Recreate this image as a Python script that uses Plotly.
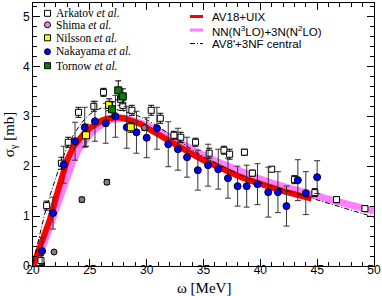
import plotly.graph_objects as go

# ---------------- data ----------------
# Arkatov et al. (open squares)
ark_x = [20.7, 21.2, 22.5, 23.1, 24.0, 25.35, 26.2, 27.7, 27.9, 28.7, 30.4, 31.2, 32.4, 33.0,
         34.3, 35.5, 36.8, 37.3, 38.6, 39.3, 41.0, 43.0, 44.8, 46.7, 49.2]
ark_y = [0.11, 1.21, 2.06, 2.48, 3.08, 3.20, 3.48, 3.34, 3.22, 3.12, 3.12, 2.96, 2.62, 2.58,
         2.48, 2.26, 2.32, 2.24, 2.28, 1.86, 1.94, 1.73, 1.47, 1.33, 1.15]
ark_e = [0.10, 0.09, 0.12, 0.10, 0.10, 0.10, 0.08, 0.12, 0.10, 0.10, 0.10, 0.10, 0.08, 0.10,
         0.08, 0.10, 0.08, 0.10, 0.06, 0.06, 0.05, 0.08, 0.08, 0.06, 0.06]

# Shima et al.
shi_x = [21.85, 24.3, 26.5, 29.8]
shi_y = [0.28, 1.33, 1.68, 2.77]
shi_e = [0.03, 0.05, 0.05, 0.05]

# Nilsson et al.
nil_x = [24.66, 26.7, 28.6]
nil_y = [2.62, 3.23, 2.78]
nil_e = [0.22, 0.12, 0.10]

# Nakayama et al.
nak_x = [20.8, 21.76, 22.7, 23.7, 24.55, 25.45, 26.4, 27.25, 28.25, 29.1, 30.0, 30.9, 31.9,
         32.75, 33.55, 34.5, 35.4, 36.3, 37.15, 38.0, 38.8, 39.75, 40.7, 41.55, 42.3, 43.3,
         44.0, 45.0]
nak_y = [0.30, 1.06, 2.03, 2.50, 2.78, 2.90, 2.86, 3.00, 2.78, 2.68, 2.57, 2.76, 2.44,
         2.34, 2.18, 1.92, 2.02, 1.94, 1.76, 1.60, 1.60, 1.64, 1.48, 1.48, 1.20, 1.72,
         1.46, 1.78]
nak_e = [0.27, 0.32, 0.37, 0.38, 0.40, 0.40, 0.40, 0.42, 0.42, 0.42, 0.40, 0.42, 0.45,
         0.42, 0.40, 0.40, 0.42, 0.40, 0.40, 0.40, 0.42, 0.41, 0.50, 0.41, 0.40, 0.41,
         0.43, 0.33]

# Tornow et al.
tor_x = [26.95, 27.5, 27.9]
tor_y = [3.14, 3.52, 3.40]
tor_e = [0.15, 0.19, 0.15]

# AV18+UIX
av18_x = [20.0, 20.5, 21.0, 21.5, 22.0, 22.5, 23.0, 23.5, 24.0, 24.5, 25.0, 25.5, 26.0, 26.5,
          27.0, 27.5, 28.0, 28.5, 29.0, 29.5, 30.0, 31.0, 32.0, 33.0, 34.0, 35.0, 36.0, 37.0,
          38.0, 39.0, 40.0, 41.0, 42.0, 43.0, 44.0, 44.5]
av18_y = [0.0, 0.30, 0.62, 0.94, 1.36, 1.78, 2.12, 2.37, 2.54, 2.66, 2.76, 2.85, 2.91, 2.95,
          2.97, 2.98, 2.96, 2.93, 2.89, 2.84, 2.77, 2.63, 2.49, 2.36, 2.24, 2.12, 2.01, 1.91,
          1.81, 1.72, 1.64, 1.57, 1.50, 1.44, 1.38, 1.35]

# NN(N3LO)+3N(N2LO)
chi_x = [20.0, 20.5, 21.0, 21.5, 22.0, 22.5, 23.0, 23.5, 24.0, 24.5, 25.0, 25.5, 26.0, 26.5,
         27.0, 27.5, 28.0, 28.5, 29.0, 29.5, 30.0, 31.0, 32.0, 33.0, 34.0, 35.0, 36.0, 37.0,
         38.0, 39.0, 40.0, 41.0, 42.0, 43.0, 44.0, 45.0, 46.0, 47.0, 48.0, 49.0, 50.0]
chi_y = [0.0, 0.20, 0.48, 0.80, 1.12, 1.48, 1.82, 2.10, 2.33, 2.50, 2.64, 2.75, 2.84, 2.90,
         2.94, 2.96, 2.96, 2.94, 2.91, 2.87, 2.82, 2.71, 2.58, 2.46, 2.34, 2.22, 2.11, 2.01,
         1.91, 1.82, 1.74, 1.66, 1.59, 1.52, 1.46, 1.40, 1.34, 1.28, 1.22, 1.16, 1.10]

# AV8'+3NF central
av8_x = [20.0, 20.5, 21.0, 21.5, 22.0, 22.5, 23.0, 23.5, 24.0, 24.5, 25.0, 25.5, 26.0, 27.0,
         28.0, 29.0, 30.0, 31.0, 32.0, 33.0, 34.0, 35.0, 36.0, 37.0, 38.0, 39.0, 40.0, 41.0,
         42.0, 43.0, 44.0, 45.0, 46.0, 47.0, 48.0, 49.0, 50.0]
av8_y = [0.05, 0.55, 1.02, 1.42, 1.78, 2.10, 2.38, 2.60, 2.78, 2.93, 3.04, 3.12, 3.16, 3.15,
         3.10, 3.03, 2.93, 2.80, 2.64, 2.48, 2.33, 2.19, 2.07, 1.96, 1.85, 1.75, 1.67, 1.60,
         1.53, 1.46, 1.40, 1.33, 1.26, 1.19, 1.12, 1.05, 0.98]

x_ticks = [20, 25, 30, 35, 40, 45, 50]
y_ticks = [0, 1, 2, 3, 4, 5]

SERIF = "Liberation Serif, Times New Roman, serif"
SANS = "Liberation Sans, Arial, sans-serif"

fig = go.Figure()

# theory curves
fig.add_trace(go.Scatter(x=chi_x, y=chi_y, mode="lines",
                         line=dict(color="#ff80ff", width=7), showlegend=False,
                         name="NN(N3LO)+3N(N2LO)"))
fig.add_trace(go.Scatter(x=av18_x, y=av18_y, mode="lines",
                         line=dict(color="#ff0000", width=6), showlegend=False,
                         name="AV18+UIX"))
fig.add_trace(go.Scatter(x=av8_x, y=av8_y, mode="lines",
                         line=dict(color="black", width=1, dash="5px,2px,1px,2px"),
                         showlegend=False, name="AV8'+3NF central"))


def data_trace(x, y, e, symbol, fill, ecolor, size, name):
    return go.Scatter(
        x=x, y=y, mode="markers", name=name, showlegend=False,
        marker=dict(symbol=symbol, size=size, color=fill,
                    line=dict(color="black", width=1)),
        error_y=dict(type="data", array=e, visible=True, color=ecolor,
                     thickness=1, width=3))


fig.add_trace(data_trace(ark_x, ark_y, ark_e, "square", "white", "black", 6, "Arkatov et al."))
fig.add_trace(data_trace(shi_x, shi_y, shi_e, "circle", "#808080", "black", 6, "Shima et al."))
fig.add_trace(data_trace(nak_x, nak_y, nak_e, "circle", "#0000ff", "#333333", 7, "Nakayama et al."))
fig.add_trace(data_trace(nil_x, nil_y, nil_e, "square", "#ffff00", "black", 7, "Nilsson et al."))
fig.add_trace(data_trace(tor_x, tor_y, tor_e, "square", "#008000", "black", 7, "Tornow et al."))

# ---------- custom legends (text + glyphs) ----------
def px2x(px):
    return (px - 33) / 341.0


def py2y(py):
    return (266 - py) / 263.0


shapes = []
annotations = []
left_entries = [
    ("Arkatov <i>et al.</i>", "rect", "white", 13.3),
    ("Shima <i>et al.</i>", "circle", "#ee82ee", 24.8),
    ("Nilsson <i>et al.</i>", "rect", "#ffff00", 37.8),
    ("Nakayama <i>et al.</i>", "circle", "#0000ff", 51.7),
    ("Tornow <i>et al.</i>", "rect", "#008000", 65.7),
]
for text, shp, col, py in left_entries:
    shapes.append(dict(type=shp, xref="paper", yref="paper", xsizemode="pixel",
                       ysizemode="pixel", xanchor=px2x(47.5), yanchor=py2y(py),
                       x0=-3, x1=3, y0=-3, y1=3, fillcolor=col,
                       line=dict(color="black", width=1), layer="above"))
    annotations.append(dict(text=text, xref="paper", yref="paper", x=px2x(54),
                            y=py2y(py), xanchor="left", yanchor="middle",
                            showarrow=False, font=dict(family=SERIF, size=11.5,
                                                       color="black")))

right_entries = [
    ("AV18+UIX", dict(color="#ff0000", width=3), 16.5),
    ("NN(N<sup>3</sup>LO)+3N(N<sup>2</sup>LO)", dict(color="#ff80ff", width=3), 30.0),
    ("AV8'+3NF central", dict(color="black", width=1, dash="5px,2px,1px,2px"), 43.5),
]
for text, ln, py in right_entries:
    shapes.append(dict(type="line", xref="paper", yref="paper", x0=px2x(190),
                       x1=px2x(203), y0=py2y(py), y1=py2y(py), line=ln, layer="above"))
    annotations.append(dict(text=text, xref="paper", yref="paper", x=px2x(210),
                            y=py2y(py + 1), xanchor="left", yanchor="middle",
                            showarrow=False, font=dict(family=SANS, size=11.5,
                                                       color="black")))

# x-axis title (placed as an annotation to sit close to the tick labels)
annotations.append(dict(text="ω [MeV]", xref="paper", yref="paper", x=0.5,
                        y=py2y(288), xanchor="center", yanchor="middle",
                        showarrow=False,
                        font=dict(family=SERIF, size=15, color="black")))

axis_common = dict(
    showline=True, linecolor="black", linewidth=1, mirror="ticks",
    ticks="inside", ticklen=7, tickwidth=1, tickcolor="black",
    showgrid=False, zeroline=False,
    tickfont=dict(family=SANS, size=12, color="black"),
)

fig.update_layout(
    width=382, height=296,
    margin=dict(l=33, r=8, t=3, b=30, autoexpand=False),
    plot_bgcolor="white", paper_bgcolor="white",
    showlegend=False,
    shapes=shapes, annotations=annotations,
    xaxis=dict(range=[20, 50], tickvals=x_ticks, ticktext=[str(v) for v in x_ticks],
               minor=dict(dtick=1, ticklen=4, ticks="inside", tickcolor="black"),
               ticklabelstandoff=-7,
               automargin=False, **axis_common),
    yaxis=dict(range=[0, 5.27], tickvals=y_ticks, ticktext=[str(v) for v in y_ticks],
               minor=dict(dtick=0.2, ticklen=4, ticks="inside", tickcolor="black"),
               title=dict(text="σ<sub>γ</sub> [mb]",
                          font=dict(family=SERIF, size=15, color="black"), standoff=4),
               automargin=False, **axis_common),
)

fig.write_html("out.html",
               config={"displayModeBar": False},
               post_script="document.body.style.margin='0';"
                           "document.body.style.overflow='hidden';")
